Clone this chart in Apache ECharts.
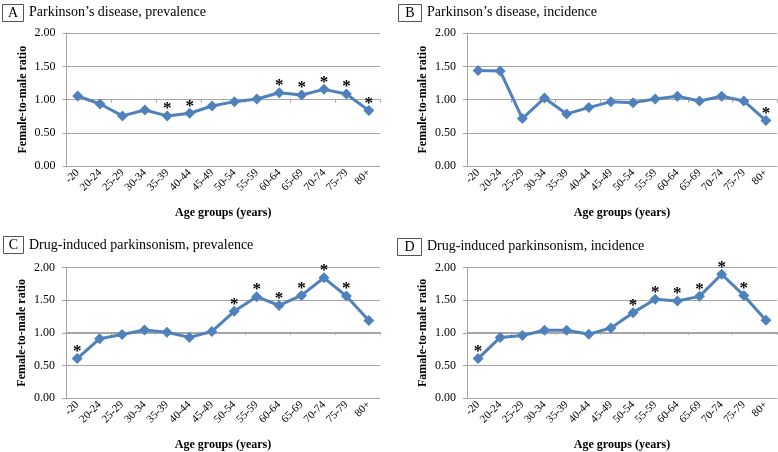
<!DOCTYPE html>
<html><head><meta charset="utf-8">
<script src="https://cdn.jsdelivr.net/npm/echarts@6/dist/echarts.min.js"></script>
<style>html,body{margin:0;padding:0;background:#fff}#c{width:778px;height:452px}</style>
</head><body><div id="c"></div>
<script>
var categories = ['-20','20-24','25-29','30-34','35-39','40-44','45-49','50-54','55-59','60-64','65-69','70-74','75-79','80+'];
var yTicks = [0, 0.5, 1.0, 1.5, 2.0];

var pdPrevalence = [1.055,0.935,0.755,0.845,0.755,0.795,0.905,0.97,1.01,1.105,1.07,1.155,1.085,0.835];
var pdPrevalenceSig = [0,0,0,0,1,1,0,0,0,1,1,1,1,1];
var pdIncidence = [1.44,1.43,0.715,1.025,0.785,0.88,0.97,0.955,1.01,1.05,0.98,1.05,0.98,0.685];
var pdIncidenceSig = [0,0,0,0,0,0,0,0,0,0,0,0,0,1];
var dipPrevalence = [0.605,0.91,0.975,1.045,1.01,0.93,1.02,1.33,1.555,1.42,1.575,1.845,1.565,1.19];
var dipPrevalenceSig = [1,0,0,0,0,0,0,1,1,1,1,1,1,0];
var dipIncidence = [0.605,0.93,0.96,1.04,1.04,0.98,1.075,1.31,1.515,1.49,1.56,1.9,1.575,1.195];
var dipIncidenceSig = [1,0,0,0,0,0,0,1,1,1,1,1,1,0];

var panels = [
  {letter:'A', title:'Parkinson\u2019s disease, prevalence', yName:'Female-to-male ratio', values:pdPrevalence, sig:pdPrevalenceSig,
   grid:{left:66.5, top:33.3, width:313.5, height:132.7}, box:{x:2,y:4,w:21,h:17}, tx:29, ty:12.5},
  {letter:'B', title:'Parkinson\u2019s disease, incidence', yName:'Female-to-male ratio', values:pdIncidence, sig:pdIncidenceSig,
   grid:{left:467, top:33.3, width:310, height:132.7}, box:{x:398,y:4,w:23,h:17}, tx:427, ty:12.5},
  {letter:'C', title:'Drug-induced parkinsonism, prevalence', yName:'Female-to-male ratio', values:dipPrevalence, sig:dipPrevalenceSig,
   grid:{left:66, top:267.7, width:314, height:132.3}, box:{x:3,y:236,w:20,h:17}, tx:29, ty:245},
  {letter:'D', title:'Drug-induced parkinsonism, incidence', yName:'Famale-to-male ratio', values:dipIncidence, sig:dipIncidenceSig,
   grid:{left:467, top:267.7, width:310, height:132.3}, box:{x:397,y:238,w:24,h:17}, tx:427, ty:246.5}
];

var serif = '"Liberation Serif","Times New Roman",serif';
var lineColor = '#4f81bd';
var gridColor = '#a6a6a6';

var option = {animation:false, backgroundColor:'#fff', grid:[], xAxis:[], yAxis:[], series:[], graphic:[]};

panels.forEach(function(p, i){
  option.grid.push(p.grid);
  option.xAxis.push({
    type:'category', gridIndex:i, data:categories, boundaryGap:true,
    axisLine:{show:true, lineStyle:{color:gridColor, width:1}},
    axisTick:{show:false},
    axisLabel:{rotate:45, fontFamily:serif, fontSize:11, color:'#000', margin:5, interval:0},
    name:'Age groups (years)', nameLocation:'middle', nameGap:41,
    nameTextStyle:{fontFamily:serif, fontSize:12, fontWeight:'bold', color:'#000'}
  });
  option.xAxis.push({
    type:'category', gridIndex:i, data:categories, boundaryGap:true, position:'bottom',
    offset:-p.grid.height/2,
    axisLine:{show:true, lineStyle:{color:gridColor, width:1}},
    axisTick:{show:true, length:3, lineStyle:{color:gridColor}},
    axisLabel:{show:false}
  });
  option.yAxis.push({
    type:'value', gridIndex:i, min:0, max:2, interval:0.5,
    axisLine:{show:true, lineStyle:{color:gridColor, width:1}},
    axisTick:{show:true, length:4, lineStyle:{color:gridColor}},
    splitLine:{show:true, lineStyle:{color:gridColor, width:1}},
    axisLabel:{fontFamily:serif, fontSize:12, color:'#000', margin:11,
      formatter:function(v){return v.toFixed(2);}},
    name:p.yName, nameLocation:'middle', nameGap:38, nameRotate:90,
    nameTextStyle:{fontFamily:serif, fontSize:12, fontWeight:'bold', color:'#000'}
  });
  option.series.push({
    type:'line', xAxisIndex:2*i, yAxisIndex:i,
    data:p.values.map(function(v, k){
      return {value:v, label:{show: !!p.sig[k]}};
    }),
    symbol:'diamond', symbolSize:11,
    lineStyle:{color:lineColor, width:3},
    itemStyle:{color:lineColor},
    label:{show:false, position:'top', distance:-7, formatter:'*',
      fontFamily:serif, fontSize:17, fontWeight:'bold', color:'#000'},
    z:5
  });
  option.graphic.push({
    type:'rect', shape:{x:p.box.x+0.5, y:p.box.y+0.5, width:p.box.w, height:p.box.h},
    style:{fill:'#fff', stroke:'#555', lineWidth:1}
  });
  option.graphic.push({
    type:'text', x:p.box.x+p.box.w/2+0.5, y:p.box.y+p.box.h/2+1,
    style:{text:p.letter, fontFamily:serif, fontSize:14, fill:'#000', textAlign:'center', textVerticalAlign:'middle'}
  });
  option.graphic.push({
    type:'text', x:p.tx, y:p.ty,
    style:{text:p.title, fontFamily:serif, fontSize:14, fill:'#000', textAlign:'left', textVerticalAlign:'middle'}
  });
});

var chart = echarts.init(document.getElementById('c'), null, {renderer:'canvas'});
chart.setOption(option);
</script>
</body></html>
